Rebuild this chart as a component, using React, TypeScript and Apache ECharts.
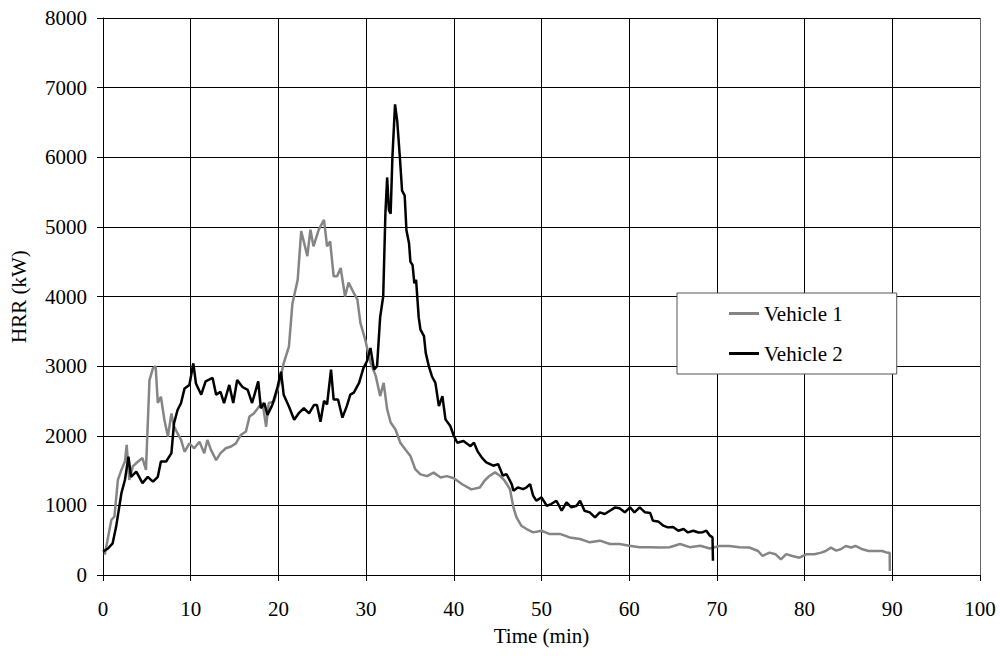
import React, { useEffect, useRef } from "react";
import * as echarts from "echarts";

const seriesNames = ["Vehicle 1", "Vehicle 2"];
const xTicks = { min: 0, max: 100, interval: 10 };
const yTicks = { min: 0, max: 8000, interval: 1000 };

// [time (min), HRR (kW)]
const vehicle1: [number, number][] = [
  [0.2, 290], [0.95, 790], [1.3, 840], [1.7, 1365], [2.1, 1510], [2.5, 1630], [2.7, 1870], [3.0, 1365],
  [3.4, 1560], [4.0, 1630], [4.5, 1680], [4.9, 1510], [5.3, 2800], [5.7, 2970], [6.0, 3000], [6.25, 2470],
  [6.6, 2560], [7.0, 2230], [7.4, 1990], [7.8, 2320], [8.1, 2130], [8.5, 2035], [8.9, 1940], [9.3, 1770],
  [9.85, 1890], [10.4, 1820], [11.0, 1915], [11.55, 1750], [11.9, 1940], [12.3, 1800], [12.9, 1650],
  [13.4, 1750], [14.0, 1820], [14.6, 1845], [15.15, 1890], [15.7, 2010], [16.3, 2060], [16.7, 2275],
  [17.2, 2320], [17.8, 2420], [18.2, 2470], [18.6, 2130], [18.9, 2470], [19.5, 2490], [20.1, 2750],
  [20.6, 3040], [21.2, 3280], [21.6, 3900], [22.2, 4240], [22.6, 4940], [23.3, 4580], [23.65, 4960],
  [24.0, 4720], [24.6, 4960], [25.2, 5100], [25.55, 4720], [25.9, 4790], [26.3, 4290], [26.7, 4290],
  [27.1, 4410], [27.6, 4000], [28.0, 4200], [28.6, 4050], [29.0, 3960], [29.35, 3620], [29.9, 3380],
  [30.5, 3050], [31.1, 2860], [31.6, 2570], [32.0, 2760], [32.4, 2380], [32.8, 2190], [33.35, 2090],
  [33.9, 1900], [34.5, 1800], [35.05, 1710], [35.6, 1520], [36.2, 1445], [36.95, 1420], [37.7, 1470],
  [38.5, 1400], [39.2, 1420], [40.0, 1390], [41.0, 1300], [42.0, 1230], [42.97, 1258], [43.5, 1354],
  [44.1, 1426], [44.7, 1474], [45.25, 1426], [45.8, 1354], [46.4, 1234], [46.8, 971], [47.15, 828],
  [47.7, 708], [48.3, 660], [49.05, 612], [50.0, 636], [50.95, 588], [52.1, 590], [53.2, 540],
  [54.4, 517], [55.5, 469], [56.65, 493], [57.8, 445], [58.9, 445], [60.0, 421], [61.2, 397],
  [62.35, 400], [63.5, 395], [64.6, 398], [65.8, 445], [66.9, 400], [68.1, 421], [69.2, 380],
  [70.3, 417], [71.4, 415], [72.6, 400], [73.7, 395], [74.7, 345], [75.2, 273], [76.0, 321],
  [76.7, 297], [77.3, 225], [77.9, 300], [78.6, 273], [79.4, 249], [80.2, 297], [81.1, 297],
  [81.9, 321], [82.4, 345], [83.0, 393], [83.6, 350], [84.1, 369], [84.7, 417], [85.3, 395],
  [85.8, 417], [86.6, 369], [87.3, 345], [88.1, 345], [88.85, 345], [89.4, 321], [89.7, 321], [89.72, 58],
];

const vehicle2: [number, number][] = [
  [0, 335], [0.57, 380], [1.1, 455], [1.5, 695], [2.1, 1175], [2.5, 1365], [2.9, 1700], [3.2, 1410],
  [3.8, 1485], [4.5, 1320], [5.1, 1410], [5.7, 1340], [6.25, 1410], [6.6, 1630], [7.2, 1630],
  [7.8, 1750], [8.1, 2180], [8.5, 2370], [8.9, 2470], [9.3, 2680], [9.85, 2730], [10.3, 3040],
  [10.6, 2750], [11.2, 2590], [11.7, 2780], [12.5, 2830], [12.9, 2590], [13.4, 2630], [13.8, 2470],
  [14.4, 2730], [14.85, 2470], [15.3, 2800], [15.9, 2700], [16.5, 2660], [17.0, 2470], [17.7, 2780],
  [18.0, 2395], [18.4, 2470], [18.75, 2300], [19.3, 2440], [19.9, 2700], [20.3, 2920], [20.6, 2590],
  [21.2, 2420], [21.8, 2230], [22.3, 2320], [22.9, 2395], [23.5, 2320], [24.05, 2440], [24.4, 2440],
  [24.8, 2200], [25.2, 2500], [25.55, 2450], [26.0, 2950], [26.3, 2520], [26.8, 2520], [27.3, 2260],
  [27.8, 2425], [28.2, 2590], [28.6, 2620], [29.2, 2760], [29.7, 2975], [30.1, 3070], [30.5, 3260],
  [30.9, 2950], [31.25, 3000], [31.6, 3700], [31.95, 4000], [32.2, 5190], [32.4, 5710], [32.6, 5240],
  [32.8, 5190], [33.0, 6000], [33.3, 6760], [33.55, 6520], [33.85, 6000], [34.1, 5520], [34.4, 5450],
  [34.6, 4950], [34.9, 4760], [35.05, 4500], [35.3, 4450], [35.5, 4190], [35.7, 4240], [36.0, 3700],
  [36.2, 3525], [36.6, 3430], [36.8, 3190], [37.15, 3000], [37.5, 2855], [37.9, 2760], [38.3, 2425],
  [38.7, 2570], [39.05, 2235], [39.6, 2140], [40.0, 2000], [40.4, 1900], [41.1, 1925], [41.9, 1850],
  [42.3, 1900], [42.7, 1780], [43.2, 1685], [43.7, 1617], [44.5, 1570], [45.05, 1593], [45.6, 1426],
  [46.0, 1450], [46.6, 1306], [46.8, 1210], [47.3, 1258], [47.9, 1234], [48.3, 1260], [48.7, 1306],
  [49.05, 1139], [49.4, 1067], [50.0, 1115], [50.6, 995], [51.1, 1019], [51.7, 1067], [52.3, 923],
  [52.85, 1043], [53.4, 971], [54.0, 995], [54.4, 1067], [54.9, 923], [55.5, 900], [56.1, 828],
  [56.65, 900], [57.2, 876], [57.8, 923], [58.4, 971], [58.9, 960], [59.5, 900], [60.1, 971],
  [60.6, 900], [61.2, 971], [61.8, 900], [62.4, 890], [62.7, 780], [63.3, 770], [63.9, 708],
  [64.4, 684], [65.0, 690], [65.6, 636], [66.2, 660], [66.7, 612], [67.3, 636], [67.9, 610],
  [68.4, 615], [68.8, 636], [69.2, 565], [69.5, 540], [69.55, 206],
];

const FONT = "'Liberation Serif', 'Times New Roman', serif";

export default function App() {
  const ref = useRef<HTMLDivElement>(null);
  useEffect(() => {
    if (!ref.current) return;
    const chart = echarts.init(ref.current, undefined, { renderer: "svg" });
    const xSplitColors = Array.from({ length: 11 }, (_, i) => (i === 10 ? "#666" : "#000"));
    chart.setOption({
      animation: false,
      backgroundColor: "#fff",
      textStyle: { fontFamily: FONT, color: "#000" },
      grid: { left: 101, top: 18, right: 20, bottom: 85 },
      legend: {
        left: 677,
        top: 293,
        orient: "vertical",
        padding: [10, 54, 10, 52],
        itemGap: 19,
        itemWidth: 30,
        itemHeight: 3,
        icon: "rect",
        backgroundColor: "#fff",
        borderColor: "#555",
        borderWidth: 1,
        textStyle: { fontFamily: FONT, fontSize: 21, color: "#000" },
        data: seriesNames,
      },
      xAxis: {
        type: "value",
        min: xTicks.min,
        max: xTicks.max,
        interval: xTicks.interval,
        name: "Time (min)",
        nameLocation: "middle",
        nameGap: 50,
        nameTextStyle: { fontFamily: FONT, fontSize: 21, color: "#000" },
        axisLine: { show: true, lineStyle: { color: "#000", width: 1 } },
        axisTick: { show: true, length: 6, lineStyle: { color: "#000" } },
        axisLabel: { fontFamily: FONT, fontSize: 21, color: "#000", margin: 23, formatter: (v: number) => String(v) },
        splitLine: { show: true, lineStyle: { color: xSplitColors, width: 1 } },
      },
      yAxis: {
        type: "value",
        min: yTicks.min,
        max: yTicks.max,
        interval: yTicks.interval,
        name: "HRR (kW)",
        nameLocation: "middle",
        nameGap: 74,
        nameTextStyle: { fontFamily: FONT, fontSize: 21, color: "#000" },
        axisLine: { show: true, lineStyle: { color: "#000", width: 1 } },
        axisTick: { show: true, length: 6, lineStyle: { color: "#000" } },
        axisLabel: { fontFamily: FONT, fontSize: 21, color: "#000", margin: 16, formatter: (v: number) => String(v) },
        splitLine: { show: true, lineStyle: { color: "#000", width: 1 } },
      },
      series: [
        {
          name: seriesNames[0],
          type: "line",
          data: vehicle1,
          showSymbol: false,
          symbol: "none",
          color: "#858585",
          lineStyle: { color: "#858585", width: 2.5 },
          z: 3,
        },
        {
          name: seriesNames[1],
          type: "line",
          data: vehicle2,
          showSymbol: false,
          symbol: "none",
          color: "#000",
          lineStyle: { color: "#000", width: 2.5 },
          z: 4,
        },
      ],
    });
    return () => chart.dispose();
  }, []);
  return (
    <div
      ref={ref}
      style={{ position: "fixed", left: 0, top: 0, width: 1000, height: 660, background: "#fff" }}
    />
  );
}
